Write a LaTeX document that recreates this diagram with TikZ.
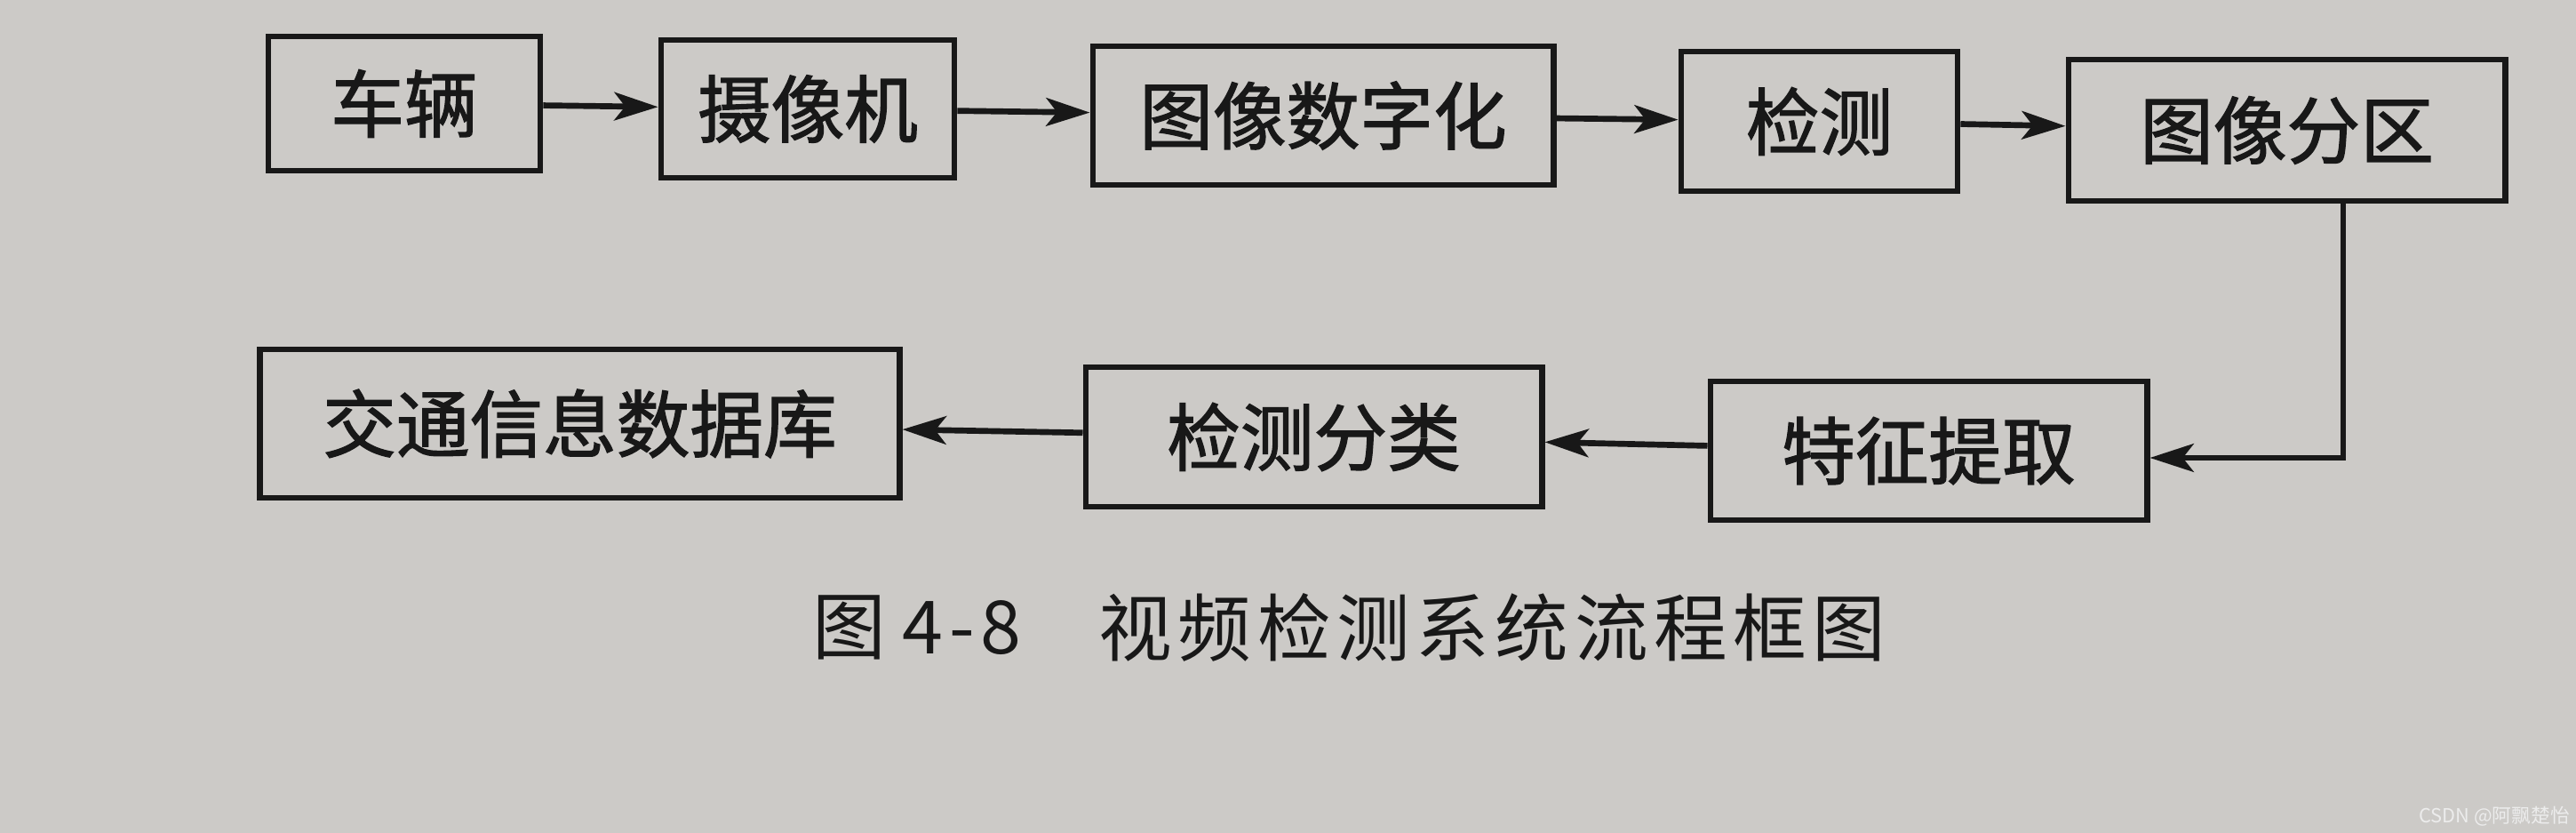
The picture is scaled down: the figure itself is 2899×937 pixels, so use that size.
\documentclass[tikz,border=0pt]{standalone}
\usepackage{fontspec}
\setmainfont{Noto Sans CJK SC}
\newfontfamily\boxfam[FakeBold=1.6]{Noto Sans CJK SC}
\newfontfamily\plainfam{Noto Sans CJK SC}
\newfontfamily\capfam[LetterSpace=8]{Noto Sans CJK SC}
\usetikzlibrary{arrows.meta}
\definecolor{paper}{RGB}{204,202,199}
\definecolor{ink}{RGB}{24,24,24}
\definecolor{wm}{RGB}{236,236,236}
\begin{document}
\begin{tikzpicture}[x=0.01cm,y=-0.01cm,
  box/.style={draw=ink,line width=1.9pt,fill=paper,inner sep=0pt,
    font=\boxfam\fontsize{23.5}{28}\selectfont,text=ink},
  arr/.style={draw=ink,line width=1.9pt,
    -{Stealth[length=14pt,width=9pt,inset=3.5pt]}},
  captext/.style={inner sep=0pt,text=ink,font=\capfam\fontsize{23.5}{28}\selectfont}]
\fill[paper] (0,0) rectangle (2899,937);
\useasboundingbox (0,0) rectangle (2899,937);
% top row
\node[box,minimum width=3.06cm,minimum height=1.51cm] (car)  at (455,116.5)  {车辆};
\node[box,minimum width=3.30cm,minimum height=1.55cm] (cam)  at (909,122.5)  {摄像机};
\node[box,minimum width=5.18cm,minimum height=1.56cm] (dig)  at (1489,130)   {图像数字化};
\node[box,minimum width=3.11cm,minimum height=1.57cm] (det)  at (2047.5,136.5) {检测};
\node[box,minimum width=4.91cm,minimum height=1.59cm] (part) at (2573.5,146.5) {图像分区};
% bottom row
\node[box,minimum width=4.91cm,minimum height=1.56cm] (feat) at (2170.5,507) {特征提取};
\node[box,minimum width=5.13cm,minimum height=1.57cm] (cls)  at (1478.5,491.5) {检测分类};
\node[box,minimum width=7.19cm,minimum height=1.67cm] (db)   at (652.5,476.5) {交通信息数据库};
% connectors
\draw[arr] (car) -- (cam);
\draw[arr] (cam) -- (dig);
\draw[arr] (dig) -- (det);
\draw[arr] (det) -- (part);
\coordinate (turn) at (2637,515);
\draw[arr] (part.south -| turn) -- (turn) -- (turn -| feat.east);
\draw[arr] (feat) -- (cls);
\draw[arr] (cls) -- (db);
% caption
\node[captext,anchor=west] (capnum) at (914,706) {图\hspace{0.22em}4-8};
\node[captext,anchor=west] (captitle) at (1236,706) {视频检测系统流程框图};
% watermark
\node[inner sep=0pt,text=wm,font=\plainfam\fontsize{6.2}{7}\selectfont] (wmark) at (2807,918) {CSDN @阿飘楚怡};
\end{tikzpicture}
\end{document}
